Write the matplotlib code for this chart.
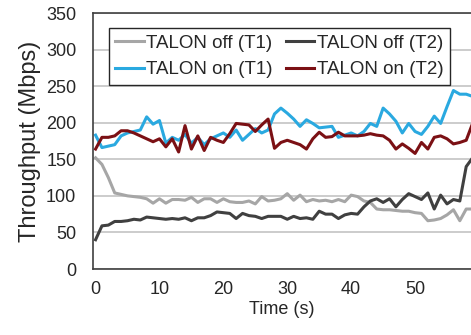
import numpy as np
import matplotlib
matplotlib.use('Agg')
import matplotlib.pyplot as plt

plt.rcParams['font.family'] = ['Liberation Sans', 'DejaVu Sans']

# time axis (s)
time_s = np.arange(60)

# throughput (Mbps)
off_t1 = [152, 143, 125, 104, 102, 100, 99, 98, 96, 90,
          96, 90, 95, 95, 94, 98, 91, 96, 96, 91,
          96, 92, 91, 91, 93, 89, 99, 93, 94, 96,
          103, 94, 101, 92, 95, 93, 94, 92, 95, 92,
          101, 99, 93, 91, 82, 81, 81, 80, 79, 79,
          77, 76, 66, 67, 69, 74, 81, 66, 82, 82]
off_t2 = [40, 59, 60, 65, 65, 66, 68, 67, 71, 70,
          69, 68, 69, 68, 70, 66, 70, 70, 73, 78,
          77, 76, 69, 76, 73, 72, 69, 72, 72, 72,
          68, 72, 69, 70, 68, 79, 75, 75, 69, 74,
          76, 75, 85, 93, 96, 91, 96, 85, 95, 103,
          99, 95, 104, 82, 101, 89, 95, 93, 140, 152]
on_t1 = [183, 166, 168, 170, 182, 186, 188, 190, 208, 198,
         203, 172, 180, 176, 184, 172, 180, 170, 178, 182,
         186, 180, 190, 176, 184, 192, 186, 190, 212, 220,
         213, 205, 195, 204, 199, 193, 194, 195, 180, 183,
         186, 182, 188, 199, 195, 220, 212, 202, 186, 199,
         188, 184, 195, 209, 199, 222, 244, 239, 239, 236]
on_t2 = [164, 180, 180, 182, 189, 189, 186, 182, 178, 174,
         178, 167, 178, 160, 196, 164, 182, 162, 180, 176,
         173, 185, 199, 198, 197, 188, 197, 205, 165, 173,
         176, 173, 170, 164, 178, 187, 180, 181, 187, 182,
         182, 182, 183, 185, 183, 182, 176, 164, 171, 165,
         158, 173, 164, 180, 182, 178, 171, 173, 176, 199]

series = [
    ('TALON off (T1)', off_t1, '#a6a6a6'),
    ('TALON on (T1)', on_t1, '#2aa9e0'),
    ('TALON off (T2)', off_t2, '#404040'),
    ('TALON on (T2)', on_t2, '#7b1014'),
]

fig = plt.figure(figsize=(4.71, 3.35), dpi=100)
ax = fig.add_axes([93 / 471, 1 - 269 / 335, 1 - 93 / 471, 256 / 335])

for label, vals, color in series:
    ax.plot(time_s, vals, color=color, lw=2.2, label=label)

ax.set_xlim(-0.4, 58.75)
ax.set_ylim(0, 350)
ax.set_xticks(range(0, 60, 10))
ax.set_yticks(range(0, 351, 50))
ax.yaxis.grid(True, color='#c4c4c4', lw=1.2)
ax.set_axisbelow(True)
ax.tick_params(length=0, labelsize=13, colors='#262626')
ax.tick_params(axis='y', pad=12)
ax.tick_params(axis='x', pad=9)
for side in ['left', 'bottom', 'top']:
    ax.spines[side].set_color('#404040')
    ax.spines[side].set_linewidth(1.2)
ax.spines['right'].set_visible(False)

ax.set_xlabel('Time (s)', fontsize=13, color='#262626', labelpad=2)
ax.set_ylabel('Throughput (Mbps)', fontsize=17, color='#262626', labelpad=4)

leg = ax.legend(ncol=2, loc='upper left', bbox_to_anchor=(0.042, 0.941),
                borderaxespad=0, fontsize=13.5, handlelength=1.5,
                handletextpad=0.15, columnspacing=0.7, labelspacing=0.5,
                borderpad=0.35, fancybox=False, framealpha=1,
                edgecolor='#262626')
leg.get_frame().set_linewidth(1.0)
for t in leg.get_texts():
    t.set_color('#262626')

fig.savefig('out.png', dpi=100)
